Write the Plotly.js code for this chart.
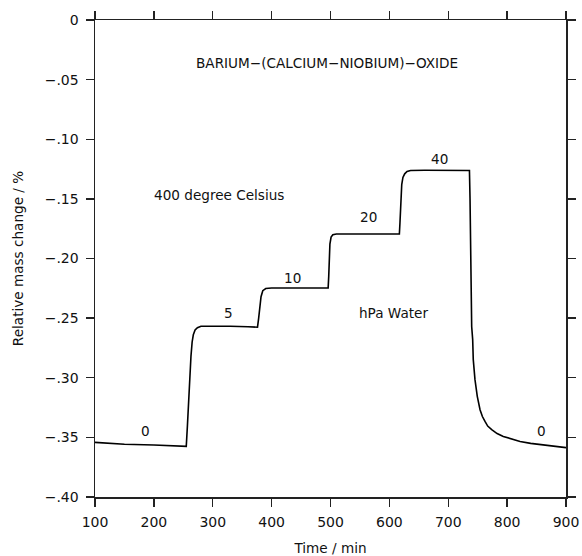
<!DOCTYPE html>
<html>
<head>
<meta charset="utf-8">
<script src="https://cdn.plot.ly/plotly-3.0.1.min.js"></script>
<style>html,body{margin:0;padding:0;background:#fff;}#chart{width:582px;height:556px;}</style>
</head>
<body>
<div id="chart"></div>
<script>
// Time in minutes
const timeMin = [
  100, 120, 150, 200, 230, 255,
  257, 259, 261, 263, 265, 267, 270, 274, 280, 300, 330, 360, 376,
  378, 380, 382, 385, 390, 400, 450, 496,
  497, 498, 499, 501, 504, 510, 560, 617,
  618, 619, 620, 621, 623, 626, 630, 636, 660, 700, 735,
  736, 737, 738, 739.8, 741.5, 742.5, 745.4, 749.3, 754, 758, 762.4, 767, 773.8, 783, 793.5, 807, 822, 840, 856, 875, 890, 900
];
// Relative mass change in %
const massChange = [
  -0.3542, -0.3550, -0.3558, -0.3564, -0.3568, -0.3575,
  -0.340, -0.318, -0.300, -0.282, -0.270, -0.264, -0.2600, -0.2580, -0.2568, -0.2566, -0.2568, -0.2572, -0.2576,
  -0.250, -0.240, -0.232, -0.2270, -0.2252, -0.2248, -0.2247, -0.2247,
  -0.215, -0.200, -0.188, -0.182, -0.1800, -0.1794, -0.1794, -0.1794,
  -0.170, -0.155, -0.145, -0.138, -0.132, -0.1290, -0.1270, -0.1262, -0.1260, -0.1260, -0.1262,
  -0.1262, -0.150, -0.200, -0.257, -0.268, -0.2848, -0.3016, -0.3156, -0.3268, -0.3325, -0.3366, -0.3405, -0.3435, -0.3468, -0.3492, -0.3515, -0.3534, -0.3550, -0.3561, -0.3572, -0.3581, -0.3586
];
// Water partial pressure labels (hPa)
const stepLabels = ["0", "5", "10", "20", "40", "0"];
const stepLabelX = [186, 326, 435, 564, 685, 859];
const stepLabelY = [-0.345, -0.2456, -0.2163, -0.1654, -0.1164, -0.345];

const xTickVals = [100, 200, 300, 400, 500, 600, 700, 800, 900];
const yTickVals = [0, -0.05, -0.10, -0.15, -0.20, -0.25, -0.30, -0.35, -0.40];
const yTickText = ["0", "\u2212.05", "\u2212.10", "\u2212.15", "\u2212.20", "\u2212.25", "\u2212.30", "\u2212.35", "\u2212.40"];

const FONT = "DejaVu Sans, sans-serif";
const annFont = {family: FONT, size: 13.6, color: "#111"};

const annotations = stepLabels.map((t, i) => ({
  x: stepLabelX[i], y: stepLabelY[i], text: t, showarrow: false,
  xref: "x", yref: "y", font: annFont
}));
annotations.push(
  {x: 494, y: -0.0358, text: "BARIUM\u2212(CALCIUM\u2212NIOBIUM)\u2212OXIDE", showarrow: false, xref: "x", yref: "y", font: annFont},
  {x: 310, y: -0.147, text: "400 degree Celsius", showarrow: false, xref: "x", yref: "y", font: annFont},
  {x: 607, y: -0.2456, text: "hPa Water", showarrow: false, xref: "x", yref: "y", font: annFont}
);

const axisCommon = {
  showline: true, linecolor: "#222", linewidth: 1.5,
  mirror: "ticks", ticks: "outside", ticklen: 8, tickwidth: 1.3, tickcolor: "#222",
  showgrid: false, zeroline: false,
  tickfont: {family: FONT, size: 14, color: "#111"}
};

const layout = {
  width: 582, height: 556,
  margin: {l: 95, r: 16, t: 20, b: 59},
  paper_bgcolor: "#fff", plot_bgcolor: "#fff",
  showlegend: false,
  xaxis: Object.assign({}, axisCommon, {
    range: [100, 900], tickvals: xTickVals, ticktext: xTickVals.map(String),
    ticklabelstandoff: 4,
    title: {text: "Time / min", font: {family: FONT, size: 13.6, color: "#111"}, standoff: 14}
  }),
  yaxis: Object.assign({}, axisCommon, {
    range: [-0.40, 0], tickvals: yTickVals, ticktext: yTickText,
    ticklabelstandoff: 4,
    title: {text: "Relative mass change / %", font: {family: FONT, size: 13.6, color: "#111"}, standoff: 18}
  }),
  annotations: annotations
};

Plotly.newPlot("chart", [{
  x: timeMin, y: massChange, type: "scatter", mode: "lines",
  line: {color: "#000", width: 1.6}, hoverinfo: "skip"
}], layout, {staticPlot: true, displayModeBar: false});
</script>
</body>
</html>
